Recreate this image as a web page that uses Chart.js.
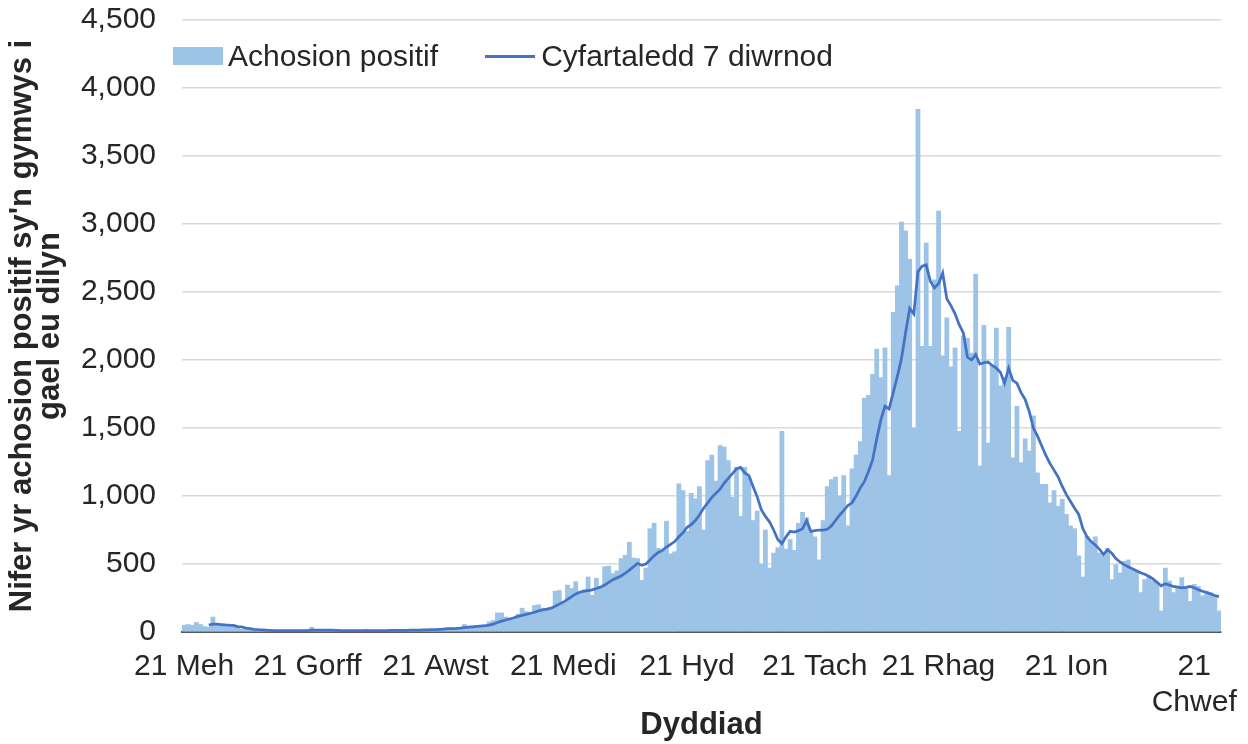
<!DOCTYPE html>
<html>
<head>
<meta charset="utf-8">
<script src="https://cdn.jsdelivr.net/npm/chart.js@4.4.1/dist/chart.umd.min.js"></script>
<style>
  html, body { margin: 0; padding: 0; background: #fff; }
  #wrap { position: relative; width: 1248px; height: 744px; }
  #legend { position: absolute; left: 173px; top: 37px; display: flex;
            font: 30px "Liberation Sans", Arial, sans-serif; color: #262626; line-height: 38px; }
  .item { display: flex; align-items: center; margin-right: 47px; }
  .swatch { width: 50px; height: 18px; margin-right: 5px; }
  .line { width: 50px; height: 3px; margin-right: 6px; }
</style>
</head>
<body>
<div id="wrap">
  <canvas id="chart" width="1248" height="744"></canvas>
  <div id="legend"></div>
</div>
<script>
const monthNames = ['Ion', 'Chwef', 'Maw', 'Ebr', 'Mai', 'Meh', 'Gorff', 'Awst', 'Medi', 'Hyd', 'Tach', 'Rhag'];

// one bar per day, 21 Meh 2021 -> 27 Chwef 2022
const days = [];
for (let i = 0; i < 252; i++) days.push(new Date(2021, 5, 21 + i));
const labels = days.map(d => d.getDate() + ' ' + monthNames[d.getMonth()]);

const cases = [
  50, 55, 50, 70, 55, 40, 35, 110, 60, 50,
  45, 42, 40, 35, 20, 18, 15, 14, 12, 11,
  10, 12, 8, 9, 11, 7, 10, 12, 9, 8,
  14, 35, 12, 10, 9, 8, 11, 10, 9, 12,
  8, 10, 11, 9, 20, 10, 8, 9, 12, 10,
  18, 11, 9, 10, 12, 13, 15, 14, 16, 18,
  17, 20, 22, 20, 25, 28, 25, 35, 55, 40,
  45, 42, 50, 48, 75, 85, 140, 140, 110, 100,
  105, 130, 175, 150, 140, 195, 200, 175, 165, 180,
  300, 305, 210, 345, 320, 370, 300, 310, 405, 270,
  395, 320, 480, 485, 430, 450, 540, 565, 660, 545,
  540, 380, 470, 760, 800, 615, 600, 815, 575, 590,
  1090, 1040, 740, 1020, 980, 1070, 750, 1260, 1300, 1110,
  1370, 1360, 1260, 990, 1210, 850, 1210, 1140, 820, 890,
  500, 750, 470, 580, 620, 1475, 610, 680, 600, 800,
  880, 840, 730, 700, 530, 820, 1070, 1120, 1140, 1000,
  1150, 780, 1200, 1300, 1400, 1720, 1740, 1895, 2080, 1870,
  2090, 1150, 2350, 2545, 3015, 2950, 2740, 1500, 3843, 2100,
  2860, 2100, 2590, 3095, 2030, 2310, 1950, 2090, 1475, 2175,
  2160, 2050, 2630, 1220, 2255, 1390, 1960, 2235, 1810, 1870,
  2240, 1280, 1660, 1245, 1420, 1330, 1590, 1170, 1085, 1085,
  950, 1040, 925, 975, 865, 780, 760, 560, 405, 705,
  665, 700, 580, 560, 615, 385, 495, 435, 520, 530,
  460, 445, 290, 385, 410, 375, 360, 155, 470, 375,
  290, 325, 400, 325, 225, 350, 335, 265, 300, 290,
  265, 155
];

const average = [
  null, null, null, null, null, null, 50, 58, 57, 55,
  52, 50, 49, 40, 37, 28, 25, 20, 17, 15,
  13, 12, 11, 10, 10, 10, 10, 10, 10, 10,
  10, 13, 13, 13, 13, 13, 13, 12, 10, 10,
  10, 10, 10, 10, 11, 11, 11, 11, 11, 11,
  12, 12, 12, 12, 12, 13, 13, 14, 15, 16,
  17, 18, 20, 22, 24, 25, 26, 28, 32, 35,
  38, 41, 44, 46, 50, 58, 70, 80, 88, 96,
  105, 115, 122, 130, 138, 145, 155, 162, 168, 175,
  190, 205, 220, 240, 260, 280, 292, 300, 305, 310,
  320, 330, 345, 365, 385, 398, 412, 432, 455, 480,
  505, 490, 500, 530, 560, 585, 600, 625, 645, 665,
  700, 730, 770, 790, 820, 860, 910, 950, 990, 1020,
  1050, 1095, 1130, 1165, 1200, 1210, 1170, 1150, 1070, 995,
  900, 850, 810, 750, 680, 650, 700, 740, 735, 745,
  760, 820, 740, 745, 750, 750, 755, 780, 820, 860,
  895, 930, 950, 1000, 1060, 1105, 1180, 1265, 1420, 1560,
  1660, 1640, 1760, 1880, 2010, 2200, 2380, 2340, 2650, 2690,
  2700, 2580, 2530, 2560, 2640, 2450, 2400, 2340, 2260, 2200,
  2020, 2000, 2040, 1970, 1980, 1985, 1960, 1940, 1910, 1830,
  1940, 1850, 1830, 1760, 1710, 1620, 1500, 1440, 1370, 1300,
  1240, 1190, 1140, 1070, 1010, 960, 910, 865, 760, 700,
  665, 640, 610, 570, 605, 580, 540, 515, 495, 480,
  465, 450, 435, 425, 410, 390, 365, 340, 355, 345,
  335, 330, 325, 328, 335, 325, 310, 300, 290, 280,
  268, 260
];

const yTicks = { min: 0, max: 4500, step: 500 };
const yTitle = ["Nifer yr achosion positif sy'n gymwys i", 'gael eu dilyn'];
const xTitle = 'Dyddiad';

const textColor = '#262626';
Chart.defaults.font.family = '"Liberation Sans", Arial, sans-serif';
Chart.defaults.font.size = 30;
Chart.defaults.color = textColor;

const isMarked = i => i < days.length && days[i].getDate() === 21;

const chart = new Chart(document.getElementById('chart'), {
  data: {
    labels: labels,
    datasets: [
      {
        type: 'bar',
        label: 'Achosion positif',
        data: cases,
        backgroundColor: '#9dc3e6',
        borderWidth: 0,
        barPercentage: 1,
        categoryPercentage: 1,
        order: 2,
      },
      {
        type: 'line',
        label: 'Cyfartaledd 7 diwrnod',
        data: average,
        borderColor: '#4472c4',
        backgroundColor: '#4472c4',
        borderWidth: 2.75,
        pointRadius: 0,
        tension: 0,
        fill: false,
        order: 1,
      },
    ],
  },
  options: {
    responsive: false,
    animation: false,
    layout: { padding: { top: 20, right: 27, bottom: 0, left: 0 } },
    scales: {
      x: {
        offset: true,
        ticks: {
          autoSkip: false,
          maxRotation: 0,
          padding: 9,
          callback: (value, index) => {
            const d = days[index];
            if (d.getDate() !== 21) return null;
            const m = monthNames[d.getMonth()];
            return m === 'Chwef' ? ['21', m] : '21 ' + m;
          },
        },
        grid: {
          offset: true,
          drawOnChartArea: false,
          tickLength: 8,
          lineWidth: 1.5,
          color: ctx => isMarked(ctx.index) ? '#595959' : 'rgba(0,0,0,0)',
        },
        border: { color: '#595959', width: 2 },
        title: { display: true, text: xTitle, font: { size: 31, weight: 'bold' }, padding: 0 },
        afterFit: scale => { scale.height = 112; },
      },
      y: {
        min: yTicks.min,
        max: yTicks.max,
        ticks: {
          stepSize: yTicks.step,
          padding: 26,
          callback: v => String(v).replace(/\B(?=(\d{3})+(?!\d))/g, ','),
        },
        grid: { color: '#d9d9d9', lineWidth: 1.5, drawTicks: false },
        border: { display: false },
        title: {
          display: true,
          text: yTitle,
          font: { size: 31, weight: 'bold', lineHeight: 0.92 },
          padding: { top: 8, bottom: 0 },
        },
        afterFit: scale => {
          scale.width = 182;
          scale.paddingTop = 0;
          scale.paddingBottom = 0;
        },
      },
    },
    plugins: {
      legend: { display: false },
      tooltip: { enabled: false },
    },
  },
});

// legend placed inside the plot, top left, as in the original
const legendEl = document.getElementById('legend');
chart.data.datasets.forEach(ds => {
  const item = document.createElement('div');
  item.className = 'item';
  const key = document.createElement('span');
  key.className = ds.type === 'line' ? 'line' : 'swatch';
  key.style.background = ds.type === 'line' ? ds.borderColor : ds.backgroundColor;
  const txt = document.createElement('span');
  txt.textContent = ds.label;
  item.appendChild(key);
  item.appendChild(txt);
  legendEl.appendChild(item);
});
</script>
</body>
</html>
